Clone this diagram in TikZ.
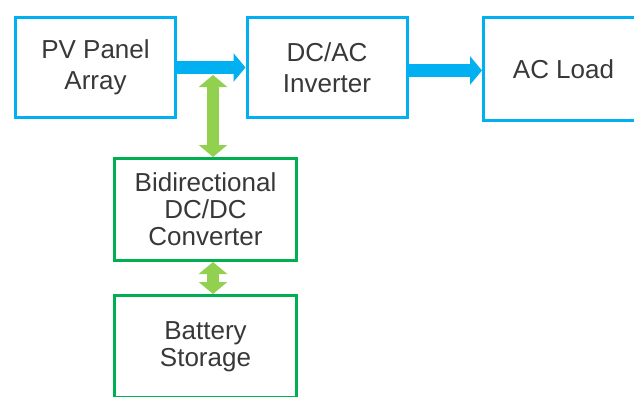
\documentclass[tikz,border=0pt]{standalone}
\usepackage{fontspec}
\setmainfont{Liberation Sans}
\usepackage{xcolor}
\usepackage{tikz}
\usetikzlibrary{shapes, arrows.meta, positioning}

\definecolor{pvblue}{HTML}{00B0F0}
\definecolor{boxgreen}{HTML}{00B050}
\definecolor{arrowgreen}{HTML}{92D050}
\definecolor{textgray}{HTML}{383838}

\begin{document}
\begin{tikzpicture}[x=1pt, y=-1pt,
            box/.style={draw, rectangle, line width=3pt, align=center, text=textgray,
                font=\fontsize{26pt}{31pt}\selectfont},
            bluebox/.style={box, draw=pvblue, minimum width=160pt, minimum height=100pt},
            greenbox/.style={box, draw=boxgreen, minimum width=182pt, minimum height=102pt,
                font=\fontsize{26pt}{27pt}\selectfont},
            flow/.style={draw=pvblue, line width=13pt, -{Triangle[length=12pt, width=28pt]}},
            link/.style={draw=arrowgreen, line width=12pt,
                {Triangle[length=12pt, width=28pt]}-{Triangle[length=12pt, width=28pt]}}]
            \useasboundingbox (0,0) rectangle (634,396);
            \node[bluebox] (pv) at (95.5,67.5) {PV Panel\\Array};
            \node[bluebox] (inv) at (327,67.5) {DC/AC\\Inverter};
            \node[bluebox, minimum height=103pt] (load) at (563.5,69) {AC Load};
            \node[greenbox] (conv) at (205.5,209.5) {Bidirectional\\DC/DC\\Converter};
            \node[greenbox] (batt) at (205.5,346.5) {Battery\\Storage};
            \coordinate (tap) at (213,75);

            \draw[flow] (pv) -- (inv);
            \draw[flow] ([yshift=-3pt]inv.east) -- ([yshift=-3pt]inv.east -| load.west);
            \draw[link] (tap) -- (tap |- conv.north);
            \draw[link] (tap |- conv.south) -- (tap |- batt.north);
        \end{tikzpicture}
\end{document}
